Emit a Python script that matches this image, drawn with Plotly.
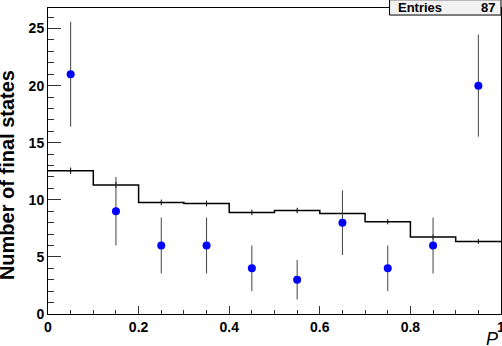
import plotly.graph_objects as go

# bin centres in P
centres = [0.05, 0.15, 0.25, 0.35, 0.45, 0.55, 0.65, 0.75, 0.85, 0.95]
bin_edges = [0.0, 0.1, 0.2, 0.3, 0.4, 0.5, 0.6, 0.7, 0.8, 0.9, 1.0]

# data points (blue) and their errors
counts = [21, 9, 6, 6, 4, 3, 8, 4, 6, 20]
count_err = [4.6, 3.0, 2.45, 2.45, 2.0, 1.73, 2.83, 2.0, 2.45, 4.47]

# expectation histogram (black steps)
hist_vals = [12.55, 11.3, 9.77, 9.68, 8.9, 9.06, 8.8, 8.08, 6.74, 6.36]
hist_err = [0.28, 0.27, 0.25, 0.25, 0.24, 0.24, 0.24, 0.23, 0.22, 0.21]

entries = sum(counts)

fig = go.Figure()

# step outline of the histogram
fig.add_trace(go.Scatter(
    x=bin_edges, y=hist_vals + [hist_vals[-1]],
    mode="lines", line=dict(color="black", width=1.5, shape="hv"),
    hoverinfo="skip", showlegend=False))

# small error ticks on the histogram
fig.add_trace(go.Scatter(
    x=centres, y=hist_vals, mode="markers",
    marker=dict(size=1, color="black"),
    error_y=dict(type="data", array=hist_err, color="black", thickness=1, width=0),
    showlegend=False))

# data points
fig.add_trace(go.Scatter(
    x=centres, y=counts, mode="markers",
    marker=dict(size=8, color="#0000ff"),
    error_y=dict(type="data", array=count_err, color="#444444", thickness=1, width=0),
    showlegend=False))

fig.update_xaxes(
    range=[0, 1], tickvals=[0, 0.2, 0.4, 0.6, 0.8, 1], ticktext=["0", "0.2", "0.4", "0.6", "0.8", "1"],
    ticks="inside", ticklen=8, tickcolor="#333333", ticklabeloverflow="allow",
    minor=dict(ticks="inside", dtick=0.05, ticklen=4, tickcolor="#333333"),
    showline=True, linecolor="black", linewidth=1, mirror=True,
    showgrid=False, zeroline=False, automargin=False,
    tickfont=dict(family="Liberation Sans", size=14, color="black", weight="bold"))

fig.update_yaxes(
    range=[0, 26.8], tickvals=[0, 5, 10, 15, 20, 25],
    ticks="inside", ticklen=13, tickcolor="#333333",
    minor=dict(ticks="inside", dtick=1, ticklen=6, tickcolor="#333333"),
    showline=True, linecolor="black", linewidth=1, mirror=True,
    showgrid=False, zeroline=False, automargin=False,
    tickfont=dict(family="Liberation Sans", size=14, color="black", weight="bold"))

# y title, rotated
fig.add_annotation(
    text="Number of final states", textangle=-90,
    xref="paper", yref="paper", x=0, y=0.454, xanchor="right", yanchor="middle",
    xshift=-28, showarrow=False,
    font=dict(family="Liberation Sans", size=20, color="black", weight="bold"))

# x title
fig.add_annotation(
    text="<i>P</i>", xref="paper", yref="paper", x=1, y=0, xanchor="right", yanchor="top",
    xshift=-1, yshift=-13, showarrow=False,
    font=dict(family="Liberation Sans", size=18, color="black"))

# stats box
fig.add_shape(type="rect", xref="paper", yref="paper",
              x0=0.754, x1=1.0, y0=0.977, y1=1.027,
              line=dict(color="black", width=1), fillcolor="#f2f2f2", layer="above")
fig.add_annotation(
    text="Entries", xref="paper", yref="paper", x=0.768, y=1.002,
    xanchor="left", yanchor="middle", showarrow=False,
    font=dict(family="Liberation Sans", size=13, color="black", weight="bold"))
fig.add_annotation(
    text=str(entries), xref="paper", yref="paper", x=0.992, y=1.002,
    xanchor="right", yanchor="middle", showarrow=False,
    font=dict(family="Liberation Sans", size=13, color="black", weight="bold"))

fig.update_layout(
    width=502, height=346,
    margin=dict(l=48, r=1, t=8, b=32),
    paper_bgcolor="white", plot_bgcolor="white",
    showlegend=False)

# page has a default 8px body margin; drop it so the figure sits at the corner
fig.write_html("out.html", config={"displayModeBar": False},
               post_script="document.body.style.margin='0px';")
